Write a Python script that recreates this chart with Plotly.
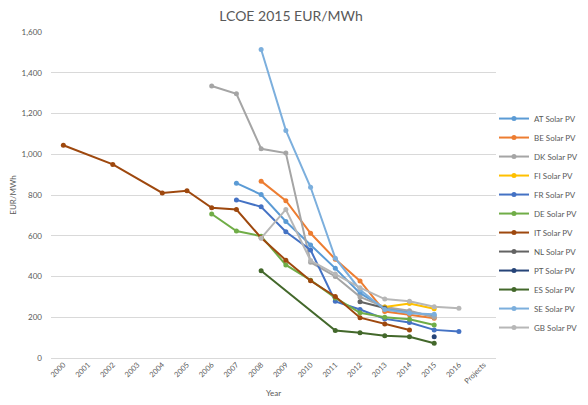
import plotly.graph_objects as go

years = ["2000", "2001", "2002", "2003", "2004", "2005", "2006", "2007", "2008",
         "2009", "2010", "2011", "2012", "2013", "2014", "2015", "2016", "Projects"]

def row(d):
    return [d.get(y) for y in years]

AT = row({"2007": 858, "2008": 802, "2009": 670, "2010": 555, "2011": 440, "2012": 318,
          "2013": 245, "2014": 225, "2015": 208})
BE = row({"2008": 868, "2009": 772, "2010": 612, "2011": 485, "2012": 378, "2013": 228,
          "2014": 212, "2015": 195})
DK = row({"2006": 1335, "2007": 1297, "2008": 1027, "2009": 1006, "2010": 470, "2011": 400,
          "2012": 300, "2013": 250, "2014": 232, "2015": 200})
FI = row({"2013": 250, "2014": 268, "2015": 242})
FR = row({"2007": 776, "2008": 742, "2009": 620, "2010": 530, "2011": 278, "2012": 238,
          "2013": 192, "2014": 174, "2015": 138, "2016": 130})
DE = row({"2006": 707, "2007": 623, "2008": 598, "2009": 457, "2010": 382, "2011": 295,
          "2012": 222, "2013": 200, "2014": 190, "2015": 162})
IT = row({"2000": 1044, "2002": 950, "2004": 810, "2005": 821, "2006": 737, "2007": 729,
          "2008": 590, "2009": 480, "2010": 379, "2011": 302, "2012": 198, "2013": 167,
          "2014": 137})
NL = row({"2012": 276, "2013": 245})
PT = row({"2015": 104})
ES = row({"2008": 428, "2011": 135, "2012": 124, "2013": 109, "2014": 104, "2015": 72})
SE = row({"2008": 1514, "2009": 1117, "2010": 838, "2011": 490, "2012": 335, "2013": 238,
          "2014": 220, "2015": 215})
GB = row({"2008": 588, "2009": 729, "2010": 478, "2011": 412, "2012": 345, "2013": 289,
          "2014": 279, "2015": 252, "2016": 244})

series = [
    ("AT Solar PV", AT, "#5B9BD5"),
    ("BE Solar PV", BE, "#ED7D31"),
    ("DK Solar PV", DK, "#A5A5A5"),
    ("FI Solar PV", FI, "#FFC000"),
    ("FR Solar PV", FR, "#4472C4"),
    ("DE Solar PV", DE, "#70AD47"),
    ("IT Solar PV", IT, "#9E480E"),
    ("NL Solar PV", NL, "#636363"),
    ("PT Solar PV", PT, "#264478"),
    ("ES Solar PV", ES, "#43682B"),
    ("SE Solar PV", SE, "#7CAFDD"),
    ("GB Solar PV", GB, "#B7B7B7"),
]

yticks = [0, 200, 400, 600, 800, 1000, 1200, 1400, 1600]

fig = go.Figure()
for name, vals, col in series:
    fig.add_trace(go.Scatter(
        x=years, y=vals, name=name, mode="lines+markers",
        connectgaps=True,
        line=dict(color=col, width=2),
        marker=dict(color=col, size=5),
    ))

font = "Lato, Open Sans, sans-serif"
# the page body has a default 8px margin, so the figure is sized to fill the rest
fig.update_layout(
    width=580, height=397,
    margin=dict(l=43, r=92, t=24, b=47, autoexpand=False),
    paper_bgcolor="white", plot_bgcolor="white",
    title=dict(text="LCOE 2015 EUR/MWh", x=0.488, xanchor="center", y=0.992, yanchor="top",
               pad=dict(t=0, b=0),
               font=dict(family=font, size=14, color="#595959")),
    font=dict(family=font, color="#595959"),
    legend=dict(x=0.9955, xanchor="left", y=0.779, yanchor="top",
                font=dict(size=8, color="#595959"), tracegroupgap=0,
                itemwidth=30, bgcolor="rgba(0,0,0,0)"),
    xaxis=dict(type="category", categoryarray=years, categoryorder="array",
               range=[-0.5, len(years) - 0.5], autorange=False,
               tickangle=-45, tickfont=dict(size=7.5, color="#595959"),
               showgrid=False, showline=False, zeroline=False, ticks="",
               automargin=False,
               title=dict(text="Year", font=dict(size=8, color="#595959"), standoff=5)),
    yaxis=dict(range=[0, 1600], tickvals=yticks, tickformat=",d",
               tickfont=dict(size=8, color="#595959"), ticklabelstandoff=8,
               showgrid=True, gridcolor="#D9D9D9", gridwidth=1,
               zeroline=True, zerolinecolor="#D9D9D9", zerolinewidth=1,
               showline=False, ticks="", automargin=False,
               title=dict(text="EUR/MWh", font=dict(size=8, color="#595959"), standoff=22)),
)

fig.write_html("out.html")
